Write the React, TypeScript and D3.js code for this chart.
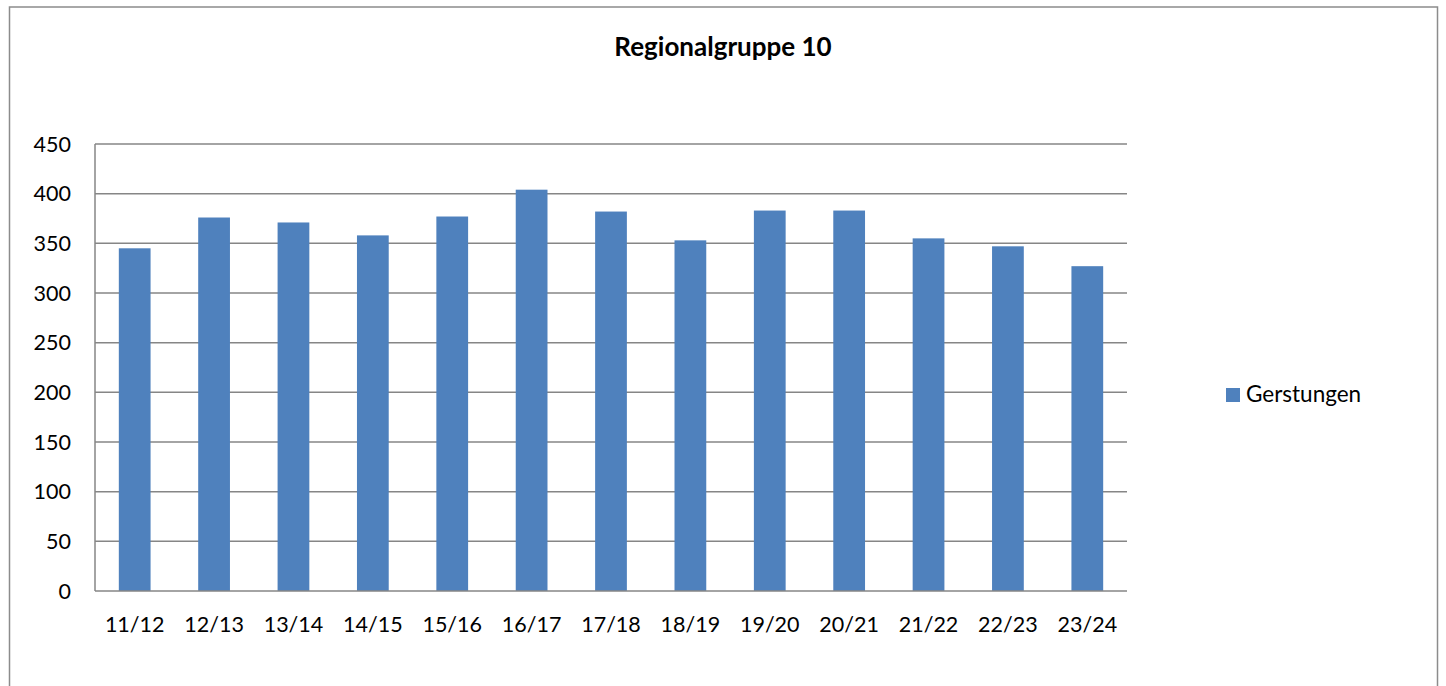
import * as d3 from "d3";
import * as React from "react";

const seasons = ["11/12", "12/13", "13/14", "14/15", "15/16", "16/17", "17/18", "18/19", "19/20", "20/21", "21/22", "22/23", "23/24"];
const gerstungen = [345, 376, 371, 358, 377, 404, 382, 353, 383, 383, 355, 347, 327];
const yTicks = [0, 50, 100, 150, 200, 250, 300, 350, 400, 450];

const W = 1446;
const H = 686;
const plot = { left: 95, right: 1127, top: 144, bottom: 591 };
const font = "Lato, Carlito, Calibri, sans-serif";

export default function App() {
  const x = d3.scaleBand().domain(seasons).range([plot.left, plot.right]).paddingInner(0.6).paddingOuter(0.3);
  const y = d3.scaleLinear().domain([0, 450]).range([plot.bottom, plot.top]);

  return (
    <svg
      width={W}
      height={H}
      style={{ position: "absolute", left: 0, top: 0, background: "#fff" }}
      fontFamily={font}
    >
      <rect x={9.5} y={7} width={1428} height={H + 10} fill="#fff" stroke="#8c8c8c" strokeWidth={1.5} />
      <text x={723} y={56} textAnchor="middle" fontSize={26} fontWeight="bold" fill="#000">
        Regionalgruppe 10
      </text>
      {yTicks.map((t) => (
        <g key={t}>
          {t > 0 && (
            <line x1={plot.left} x2={plot.right} y1={y(t)} y2={y(t)} stroke="#868686" strokeWidth={1.5} />
          )}
          <text x={71} y={y(t)} dy="0.35em" textAnchor="end" fontSize={21.5} fill="#000">
            {t}
          </text>
        </g>
      ))}
      {seasons.map((s, i) => (
        <rect
          key={s}
          x={x(s)}
          y={y(gerstungen[i])}
          width={x.bandwidth()}
          height={y(0) - y(gerstungen[i])}
          fill="#4f81bd"
        />
      ))}
      <line x1={plot.left} x2={plot.left} y1={plot.top} y2={plot.bottom} stroke="#868686" strokeWidth={1.5} />
      <line x1={plot.left} x2={plot.right} y1={plot.bottom} y2={plot.bottom} stroke="#868686" strokeWidth={1.5} />
      {seasons.map((s) => (
        <text key={s} x={x(s)! + x.bandwidth() / 2} y={632} textAnchor="middle" fontSize={21.5} fill="#000">
          {s}
        </text>
      ))}
      <rect x={1226} y={388} width={14} height={14} fill="#4f81bd" />
      <text x={1246} y={402} fontSize={22.5} fill="#000">
        Gerstungen
      </text>
    </svg>
  );
}
